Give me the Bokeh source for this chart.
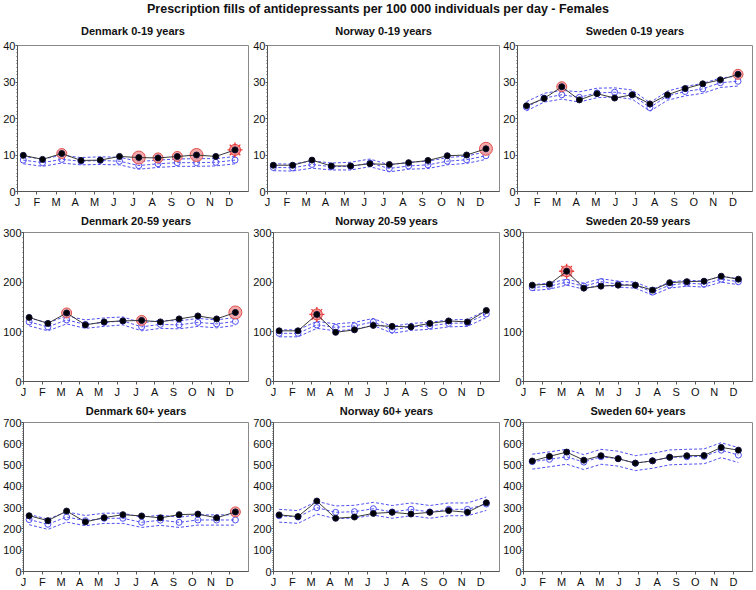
from bokeh.plotting import figure
from bokeh.layouts import column, row
from bokeh.models import Div, FixedTicker, Range1d
from bokeh.embed import file_html
from bokeh.resources import INLINE

# ---------------- data ----------------
month_labels = ["J", "F", "M", "A", "M", "J", "J", "A", "S", "O", "N", "D"]
month_ticks = [0, 1, 2, 3, 4, 5, 6, 7, 8, 9, 10, 11]
# period positions (in months from 1 January)
monthly_x = [0.3, 1.3, 2.3, 3.3, 4.3, 5.3, 6.3, 7.3, 8.3, 9.3, 10.3, 11.3]
fourweek_x = [0.46, 1.36, 2.26, 3.16, 4.06, 4.96, 5.86, 6.76, 7.66, 8.56, 9.46, 10.36, 11.26]

# Denmark 0-19
dk1_obs = [9.9, 8.8, 10.4, 8.5, 8.6, 9.6, 9.3, 9.2, 9.6, 10.0, 9.6, 11.4]
dk1_exp = [8.6, 7.9, 8.8, 8.3, 8.5, 8.3, 7.1, 7.6, 7.9, 7.9, 8.0, 8.6]
dk1_up = [9.6, 8.9, 9.9, 9.3, 9.5, 9.4, 8.2, 8.6, 8.9, 9.0, 9.0, 9.6]
dk1_lo = [7.6, 6.9, 7.8, 7.3, 7.4, 7.3, 6.1, 6.6, 6.9, 6.9, 7.0, 7.6]
dk1_sig = [0, 0, 1, 0, 0, 0, 2, 1, 1, 2, 0, 3]

# Norway 0-19
no1_obs = [7.2, 7.2, 8.6, 7.0, 7.0, 7.6, 7.4, 7.9, 8.5, 9.8, 10.0, 11.7]
no1_exp = [6.6, 6.5, 7.4, 6.8, 6.9, 7.8, 6.3, 7.0, 7.3, 8.3, 8.7, 9.8]
no1_up = [7.6, 7.5, 8.4, 7.8, 8.0, 8.9, 7.3, 8.0, 8.3, 9.3, 9.7, 10.9]
no1_lo = [5.7, 5.6, 6.4, 5.9, 5.9, 6.8, 5.4, 6.1, 6.3, 7.3, 7.7, 8.8]
no1_sig = [0, 0, 0, 0, 0, 0, 0, 0, 0, 0, 0, 2]

# Sweden 0-19 (13 four-week periods)
se1_obs = [23.5, 25.5, 28.7, 25.1, 26.8, 25.6, 26.5, 24.0, 26.5, 28.2, 29.5, 30.6, 32.1]
se1_exp = [23.1, 25.6, 26.5, 25.8, 27.0, 27.2, 26.5, 23.0, 26.2, 27.4, 28.1, 29.8, 30.2]
se1_up = [24.6, 26.9, 27.7, 27.3, 28.3, 28.4, 27.8, 24.3, 27.5, 28.8, 29.6, 31.1, 31.6]
se1_lo = [22.1, 24.5, 25.3, 24.5, 25.7, 25.9, 25.3, 22.0, 25.0, 26.2, 26.9, 28.5, 28.9]
se1_sig = [0, 0, 1, 0, 0, 0, 0, 0, 0, 0, 0, 0, 1]

# Denmark 20-59
dk2_obs = [129, 117, 138, 114, 120, 122, 123, 120, 126, 132, 126, 139]
dk2_exp = [120, 110, 124, 115, 119, 122, 110, 115, 114, 119, 116, 121]
dk2_up = [128, 118, 132, 124, 128, 130, 118, 123, 122, 127, 124, 129]
dk2_lo = [112, 102, 116, 107, 111, 114, 102, 107, 106, 111, 108, 113]
dk2_sig = [0, 0, 1, 0, 0, 0, 1, 0, 0, 0, 0, 2]

# Norway 20-59
no2_obs = [102, 102, 135, 99, 104, 113, 111, 110, 117, 122, 120, 143]
no2_exp = [97, 97, 114, 109, 112, 120, 104, 110, 112, 117, 118, 136]
no2_up = [104, 104, 121, 116, 119, 127, 111, 117, 119, 124, 125, 143]
no2_lo = [90, 90, 107, 102, 105, 113, 97, 103, 105, 110, 111, 129]
no2_sig = [0, 0, 3, 0, 0, 0, 0, 0, 0, 0, 0, 0]

# Sweden 20-59
se2_obs = [194, 196, 222, 188, 192, 194, 194, 184, 199, 201, 202, 212, 206]
se2_exp = [189, 192, 200, 192, 201, 196, 194, 180, 194, 198, 196, 206, 201]
se2_up = [195, 198, 206, 198, 207, 202, 200, 186, 200, 204, 202, 212, 207]
se2_lo = [183, 186, 194, 186, 195, 190, 188, 174, 188, 192, 190, 200, 195]
se2_sig = [0, 0, 3, 0, 0, 0, 0, 0, 0, 0, 0, 0, 0]

# Denmark 60+
dk3_obs = [262, 239, 284, 233, 253, 267, 261, 252, 267, 270, 252, 280]
dk3_exp = [244, 222, 256, 239, 250, 250, 231, 241, 231, 242, 242, 242]
dk3_up = [268, 246, 280, 263, 274, 274, 255, 265, 255, 266, 266, 266]
dk3_lo = [220, 198, 232, 215, 226, 226, 207, 217, 207, 218, 218, 218]
dk3_sig = [0, 0, 0, 0, 0, 0, 0, 0, 0, 0, 0, 1]

# Norway 60+
no3_obs = [266, 258, 331, 250, 256, 273, 278, 270, 278, 286, 278, 323]
no3_exp = [262, 256, 300, 278, 281, 295, 280, 292, 280, 292, 292, 317]
no3_up = [292, 286, 330, 308, 311, 325, 310, 322, 310, 322, 322, 350]
no3_lo = [232, 226, 270, 248, 251, 265, 250, 262, 250, 262, 262, 287]
no3_sig = [0, 0, 0, 0, 0, 0, 0, 0, 0, 0, 0, 0]

# Sweden 60+
se3_obs = [519, 541, 561, 523, 544, 530, 509, 520, 537, 544, 545, 583, 570]
se3_exp = [516, 527, 539, 514, 539, 530, 509, 520, 536, 539, 541, 570, 547]
se3_up = [551, 562, 574, 549, 574, 565, 544, 555, 571, 574, 576, 605, 582]
se3_lo = [481, 492, 504, 479, 504, 495, 474, 485, 501, 504, 506, 535, 512]
se3_sig = [0, 0, 0, 0, 0, 0, 0, 0, 0, 0, 0, 0, 0]

main_title = "Prescription fills of antidepressants per 100 000 individuals per day - Females"

panels = [
    [("Denmark 0-19 years", monthly_x, dk1_obs, dk1_exp, dk1_up, dk1_lo, dk1_sig, 40, 10),
     ("Norway 0-19 years", monthly_x, no1_obs, no1_exp, no1_up, no1_lo, no1_sig, 40, 10),
     ("Sweden 0-19 years", fourweek_x, se1_obs, se1_exp, se1_up, se1_lo, se1_sig, 40, 10)],
    [("Denmark 20-59 years", monthly_x, dk2_obs, dk2_exp, dk2_up, dk2_lo, dk2_sig, 300, 100),
     ("Norway 20-59 years", monthly_x, no2_obs, no2_exp, no2_up, no2_lo, no2_sig, 300, 100),
     ("Sweden 20-59 years", fourweek_x, se2_obs, se2_exp, se2_up, se2_lo, se2_sig, 300, 100)],
    [("Denmark 60+ years", monthly_x, dk3_obs, dk3_exp, dk3_up, dk3_lo, dk3_sig, 700, 100),
     ("Norway 60+ years", monthly_x, no3_obs, no3_exp, no3_up, no3_lo, no3_sig, 700, 100),
     ("Sweden 60+ years", fourweek_x, se3_obs, se3_exp, se3_up, se3_lo, se3_sig, 700, 100)],
]

# ---------------- layout ----------------
FONT = "Liberation Sans"
col_w = [250, 250, 256]
col_right = [2, 1, 4]
row_h = [192, 190, 190]
row_top = [27, 22, 22]
row_bottom = [16, 17, 18]
title_standoff = [13, 7, 7]
left_small = [16, 17, 17]   # rows with 2-digit labels
left_big = [22, 22, 22]

BLUE = "#5050f2"
rows = []
for r, prow in enumerate(panels):
    figs = []
    for c, (ttl, xs, obs, exp, up, lo, sig, ymax, ystep) in enumerate(prow):
        p = figure(width=col_w[c], height=row_h[r], output_backend="svg",
                   toolbar_location=None, x_range=Range1d(0, 12), y_range=Range1d(0, ymax),
                   min_border_left=(left_small[c] if ymax < 100 else left_big[c]),
                   min_border_right=col_right[c], min_border_top=row_top[r],
                   min_border_bottom=row_bottom[r], sizing_mode="fixed", margin=0)
        p.title.text = ttl
        p.title.align = "center"
        p.title.vertical_align = "top"
        p.title.text_font = FONT
        p.title.text_font_size = "11px"
        p.title.text_font_style = "bold"
        p.title.text_color = "#111111"
        p.title.standoff = title_standoff[r]
        p.grid.visible = False
        p.outline_line_color = "#8a8a8a"
        p.outline_line_width = 1
        p.background_fill_color = "white"
        p.border_fill_color = "white"

        p.xaxis.ticker = FixedTicker(ticks=month_ticks)
        p.xaxis.major_label_overrides = {t: l for t, l in zip(month_ticks, month_labels)}
        p.xaxis.major_tick_out = 3
        p.xaxis.major_tick_in = 0
        p.xaxis.major_label_standoff = 1

        p.yaxis.ticker = FixedTicker(ticks=list(range(0, ymax + 1, ystep)),
                                     minor_ticks=[v * ystep / 10 for v in range(0, int(ymax / ystep * 10) + 1)])
        p.yaxis.major_tick_out = 2
        p.yaxis.major_tick_in = 0
        p.yaxis.minor_tick_out = 1
        p.yaxis.minor_tick_in = 0
        p.yaxis.major_label_standoff = 0
        for ax in (p.xaxis, p.yaxis):
            ax.axis_line_color = "#555555"
            ax.major_tick_line_color = "#555555"
            ax.minor_tick_line_color = "#555555"
            ax.major_label_text_font = FONT
            ax.major_label_text_font_size = "11px"
            ax.major_label_text_color = "#111111"
        p.xaxis.minor_tick_line_color = None

        # expected with control limits
        p.line(xs, up, line_color=BLUE, line_dash="3 2", line_width=1)
        p.line(xs, lo, line_color=BLUE, line_dash="3 2", line_width=1)
        p.line(xs, exp, line_color=BLUE, line_dash="3 2", line_width=1)
        p.scatter(xs, exp, marker="circle", size=6, fill_color=None, line_color=BLUE, line_width=1)

        # signals
        for i, s in enumerate(sig):
            if s == 0:
                continue
            if s == 3:
                p.scatter([xs[i]], [obs[i]], marker="asterisk", size=15, line_color="#ee3333", line_width=1.3)
                p.scatter([xs[i]], [obs[i]], marker="circle", size=11, fill_color="#f08080",
                          fill_alpha=0.8, line_color="#e04040")
            else:
                sz = 10 if s == 1 else 13
                p.scatter([xs[i]], [obs[i]], marker="circle", size=sz, fill_color="#f29a9a",
                          fill_alpha=0.85, line_color="#e05050", line_width=1)

        # observed
        p.line(xs, obs, line_color="#3a3a3a", line_width=1)
        p.scatter(xs, obs, marker="circle", size=6, fill_color="black", line_color="#10103a")
        figs.append(p)
    rows.append(row(*figs, spacing=0, sizing_mode="fixed", margin=0))

title_div = Div(text=main_title, width=756, height=18, margin=0,
                styles={"font-family": FONT, "font-size": "12.5px", "font-weight": "bold",
                        "text-align": "center", "width": "756px", "line-height": "16px",
                        "padding-top": "1px", "color": "#111111"})

layout = column(title_div, *rows, spacing=0, sizing_mode="fixed", margin=0,
                styles={"position": "absolute", "left": "0px", "top": "0px"})

with open("out.html", "w") as f:
    f.write(file_html(layout, INLINE))
